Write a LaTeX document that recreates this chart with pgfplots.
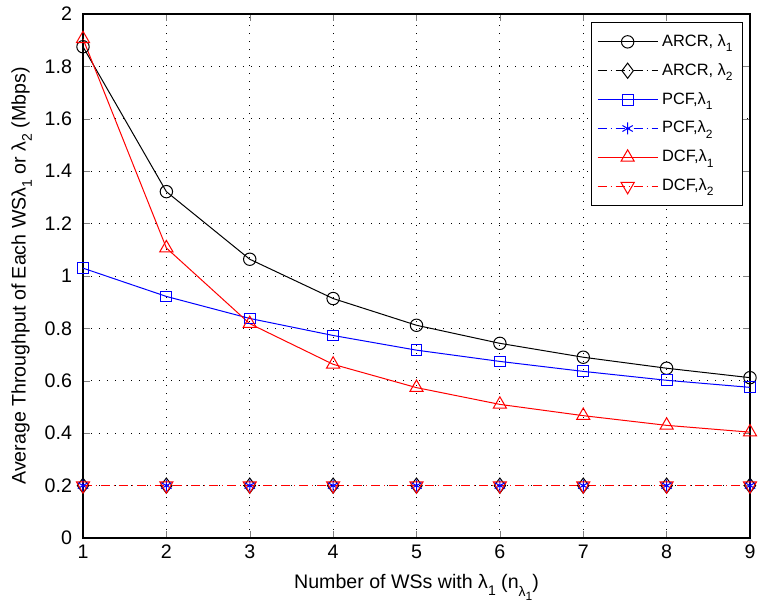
\documentclass[border=0pt]{standalone}
\usepackage{pgfplots}
\pgfplotsset{compat=1.18}
\usepackage{fontspec}
\setmainfont{Liberation Sans}
\newcommand{\sub}[1]{\raisebox{-0.6ex}{\fontsize{7}{8}\selectfont #1}}
\newcommand{\lsub}[1]{\raisebox{-0.6ex}{\fontsize{6}{7}\selectfont #1}}
\newcommand{\fs}{\fontsize{9.8}{11}\selectfont}
\newcommand{\lfs}{\fontsize{8.2}{9}\selectfont}

\begin{document}
\begin{tikzpicture}
\begin{axis}[
  width=333.5pt, height=262pt, scale only axis,
  xmin=1, xmax=9, ymin=0, ymax=2,
  xtick={1,2,3,4,5,6,7,8,9},
  ytick={0,0.2,0.4,0.6,0.8,1,1.2,1.4,1.6,1.8,2},
  /pgf/number format/assume math mode=true,
  tick label style={font=\fs},
  yticklabel style={xshift=-2pt},
  label style={font=\fs},
  xtick pos=both, ytick pos=both,
  tick align=inside,
  major tick length=3.5pt,
  axis line style={line width=0.9pt},
  grid=major,
  grid style={black, line width=0.4pt, dash pattern=on 0.4pt off 3.6pt},
  ylabel shift=-0.5pt,
  xlabel shift=1pt,
  xlabel={Number of WSs with λ\sub{1} (n\raisebox{-0.7ex}{\fontsize{7}{8}\selectfont λ\raisebox{-0.6ex}{\fontsize{6}{7}\selectfont 1}})},
  ylabel={Average Throughput of Each WSλ\sub{1} or λ\sub{2} (Mbps)},
  legend image code/.code={\draw[mark repeat=2,mark phase=2] plot coordinates {(0pt,0pt) (15pt,0pt) (30pt,0pt)};},
  legend style={at={(rel axis cs:1,1)}, anchor=north east, xshift=-3.5pt, yshift=-4pt,
    font=\lfs, draw=black, cells={anchor=west},
    row sep=3pt, inner xsep=3pt, inner ysep=4pt},
  every axis plot/.append style={line width=0.5pt},
]
\addplot[black, mark=o, mark size=3.1pt, mark options={solid}] coordinates {
(1,1.875) (2,1.322) (3,1.064) (4,0.914) (5,0.812) (6,0.743) (7,0.690) (8,0.648) (9,0.612)};
\addlegendentry{ARCR, λ\lsub{1}}
\addplot[black, dash pattern=on 4.5pt off 2pt on 0.5pt off 2pt, mark=diamond, mark size=3.8pt, mark options={solid}] coordinates {
(1,0.2) (2,0.2) (3,0.2) (4,0.2) (5,0.2) (6,0.2) (7,0.2) (8,0.2) (9,0.2)};
\addlegendentry{ARCR, λ\lsub{2}}
\addplot[blue, mark=square, mark size=2.7pt, mark options={solid}] coordinates {
(1,1.030) (2,0.922) (3,0.838) (4,0.773) (5,0.717) (6,0.674) (7,0.636) (8,0.602) (9,0.575)};
\addlegendentry{PCF,λ\lsub{1}}
\addplot[blue, dash pattern=on 4.5pt off 2pt on 0.5pt off 2pt, mark=asterisk, mark size=3pt, mark options={solid}] coordinates {
(1,0.2) (2,0.2) (3,0.2) (4,0.2) (5,0.2) (6,0.2) (7,0.2) (8,0.2) (9,0.2)};
\addlegendentry{PCF,λ\lsub{2}}
\addplot[red, mark=triangle, mark size=3.8pt, mark options={solid}] coordinates {
(1,1.905) (2,1.107) (3,0.818) (4,0.663) (5,0.574) (6,0.510) (7,0.467) (8,0.430) (9,0.404)};
\addlegendentry{DCF,λ\lsub{1}}
\addplot[red, dash pattern=on 4.5pt off 2pt on 0.5pt off 2pt, mark=triangle, mark size=3.8pt, mark options={solid, rotate=180}] coordinates {
(1,0.2) (2,0.2) (3,0.2) (4,0.2) (5,0.2) (6,0.2) (7,0.2) (8,0.2) (9,0.2)};
\addlegendentry{DCF,λ\lsub{2}}
\end{axis}
\pgfresetboundingbox
\path[use as bounding box] ([shift={(-41.5pt,-37pt)}]current axis.south west) rectangle ([shift={(4pt,7pt)}]current axis.north east);
\end{tikzpicture}
\end{document}
